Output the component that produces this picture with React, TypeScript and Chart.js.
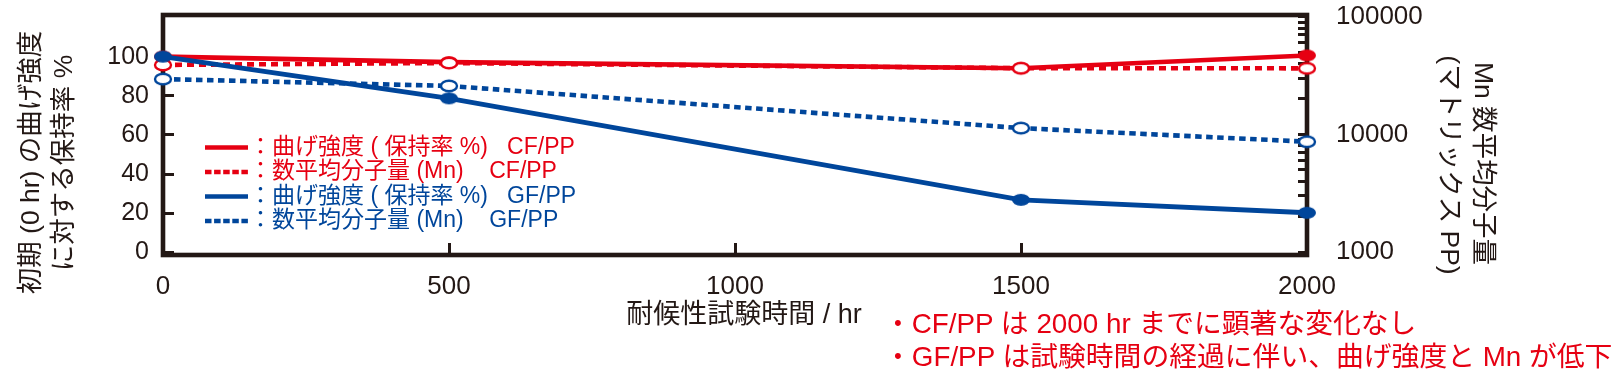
import React, { useEffect, useRef } from 'react';
import { Chart, registerables } from 'chart.js';

Chart.register(...registerables);

// ---- data ----
const hours = [0, 500, 1500, 2000];
const cfStrength = [100, 97.2, 94.1, 100.6];
const cfMn = [38900, 40400, 36500, 36400];
const gfStrength = [100, 78.7, 26.8, 20.2];
const gfMn = [29500, 25800, 11300, 8660];

const xTicks = [0, 500, 1000, 1500, 2000];
const leftTicks = [0, 20, 40, 60, 80, 100];
const rightTicks = [
  1000, 2000, 3000, 4000, 5000, 6000, 7000, 8000, 9000,
  10000, 20000, 30000, 40000, 50000, 60000, 70000, 80000, 90000,
  100000,
];
const rightLabelled = [1000, 10000, 100000];

const seriesLabels = [
  '曲げ強度 ( 保持率 %)   CF/PP',
  '数平均分子量 (Mn)    CF/PP',
  '曲げ強度 ( 保持率 %)   GF/PP',
  '数平均分子量 (Mn)    GF/PP',
];
const leftTitle = ['初期 (0 hr) の曲げ強度', 'に対する保持率 %'];
const rightTitle = ['Mn 数平均分子量', '(マトリックス PP)'];
const xTitle = '耐候性試験時間 / hr';
const notes = [
  '・CF/PP は 2000 hr までに顕著な変化なし',
  '・GF/PP は試験時間の経過に伴い、曲げ強度と Mn が低下',
];

// ---- styles ----
const RED = '#e60012';
const BLUE = '#00469b';
const INK = '#231815';
const FONT = "'Liberation Sans', 'Noto Sans CJK JP', sans-serif";

function ellipse(color: string, filled: boolean): HTMLCanvasElement {
  const c = document.createElement('canvas');
  c.width = 22;
  c.height = 16;
  const g = c.getContext('2d')!;
  g.beginPath();
  g.ellipse(11, 8, filled ? 9 : 8, filled ? 6 : 5.2, 0, 0, Math.PI * 2);
  if (filled) {
    g.fillStyle = color;
    g.fill();
  } else {
    g.fillStyle = '#ffffff';
    g.fill();
    g.lineWidth = 2.4;
    g.strokeStyle = color;
    g.stroke();
  }
  return c;
}

const zeroPad = (s: any) => {
  s.paddingTop = 0;
  s.paddingBottom = 0;
  s.paddingLeft = 0;
  s.paddingRight = 0;
};

export default function App() {
  const ref = useRef<HTMLCanvasElement | null>(null);

  useEffect(() => {
    if (!ref.current) return;
    const markers = {
      redFilled: ellipse(RED, true),
      redOpen: ellipse(RED, false),
      blueFilled: ellipse(BLUE, true),
      blueOpen: ellipse(BLUE, false),
    };
    const pts = (vals: number[]) => hours.map((h, i) => ({ x: h, y: vals[i] }));
    const seriesStyle = [
      { color: RED, legendDash: [] as number[] },
      { color: RED, legendDash: [6.5, 2.6] },
      { color: BLUE, legendDash: [] as number[] },
      { color: BLUE, legendDash: [6.5, 2.6] },
    ];

    const frameAndText = {
      id: 'frameAndText',
      beforeDatasetsDraw(chart: any) {
        const { ctx, chartArea: a } = chart;
        ctx.save();
        ctx.lineWidth = 4.6;
        ctx.strokeStyle = INK;
        ctx.strokeRect(a.left, a.top, a.right - a.left, a.bottom - a.top);
        ctx.restore();
      },
      afterDraw(chart: any) {
        const { ctx } = chart;
        const txt = (s: string, x: number, y: number, rot: number, size: number, color: string, align: CanvasTextAlign = 'center') => {
          ctx.save();
          ctx.translate(x, y);
          ctx.rotate(rot);
          ctx.font = `${size}px ${FONT}`;
          ctx.fillStyle = color;
          ctx.textAlign = align;
          ctx.textBaseline = 'middle';
          ctx.fillText(s, 0, 0);
          ctx.restore();
        };
        // axis titles
        txt(leftTitle[0], 31.5, 162.5, -Math.PI / 2, 26.5, INK);
        txt(leftTitle[1], 65, 163, -Math.PI / 2, 26.5, INK);
        txt(rightTitle[0], 1482, 163.5, Math.PI / 2, 26.5, INK);
        txt(rightTitle[1], 1448, 165, Math.PI / 2, 26.5, INK);
        txt(xTitle, 744, 316, 0, 27, INK);
        // legend
        const rows = [147.5, 172, 196.5, 221];
        seriesLabels.forEach((lab, i) => {
          const st = seriesStyle[i];
          ctx.save();
          ctx.strokeStyle = st.color;
          ctx.lineWidth = 4.6;
          ctx.lineCap = 'butt';
          ctx.setLineDash(st.legendDash);
          ctx.beginPath();
          ctx.moveTo(205, rows[i]);
          ctx.lineTo(248, rows[i]);
          ctx.stroke();
          ctx.restore();
          txt('：' + lab, 249, rows[i], 0, 23, st.color, 'left');
        });
      },
    };

    const chart = new Chart(ref.current, {
      type: 'line',
      data: {
        datasets: [
          {
            label: seriesLabels[0], data: pts(cfStrength), yAxisID: 'y', order: 4,
            borderColor: RED, backgroundColor: RED, borderWidth: 4.6,
            pointStyle: markers.redFilled as any, pointRadius: 9, pointHoverRadius: 9,
          },
          {
            label: seriesLabels[1], data: pts(cfMn), yAxisID: 'y2', order: 3,
            borderColor: RED, backgroundColor: RED, borderWidth: 4.6, borderDash: [7, 5],
            pointStyle: markers.redOpen as any, pointRadius: 9, pointHoverRadius: 9,
          },
          {
            label: seriesLabels[2], data: pts(gfStrength), yAxisID: 'y', order: 2,
            borderColor: BLUE, backgroundColor: BLUE, borderWidth: 4.8,
            pointStyle: markers.blueFilled as any, pointRadius: 9, pointHoverRadius: 9,
          },
          {
            label: seriesLabels[3], data: pts(gfMn), yAxisID: 'y2', order: 1,
            borderColor: BLUE, backgroundColor: BLUE, borderWidth: 4.6, borderDash: [6.5, 4.5],
            pointStyle: markers.blueOpen as any, pointRadius: 9, pointHoverRadius: 9,
          },
        ],
      },
      options: {
        responsive: false,
        animation: false,
        devicePixelRatio: 1,
        clip: false as any,
        layout: { padding: { top: 15, left: 0, right: 0, bottom: 0 } },
        elements: { line: { tension: 0, borderCapStyle: 'butt' } },
        plugins: { legend: { display: false }, tooltip: { enabled: false }, title: { display: false } },
        scales: {
          x: {
            type: 'linear', position: 'bottom', min: 0, max: 2000,
            afterBuildTicks: (s: any) => { s.ticks = xTicks.map((v) => ({ value: v })); },
            afterFit: (s: any) => { s.height = 123; zeroPad(s); },
            ticks: { autoSkip: false, maxRotation: 0, padding: 28, color: INK, font: { family: FONT, size: 26 }, callback: (v: any) => String(v) },
            grid: { drawOnChartArea: false, drawTicks: true, tickLength: -12, tickWidth: 3, tickColor: INK, color: INK, lineWidth: 3 },
            border: { display: false },
          },
          y: {
            type: 'linear', position: 'left', min: -1.4, max: 121.3,
            afterBuildTicks: (s: any) => { s.ticks = leftTicks.map((v) => ({ value: v })); },
            afterFit: (s: any) => { s.width = 163; zeroPad(s); },
            ticks: { autoSkip: false, padding: 25, color: INK, font: { family: FONT, size: 25 }, callback: (v: any) => String(v) },
            grid: { drawOnChartArea: false, drawTicks: true, tickLength: -11, tickWidth: 3, tickColor: INK, color: INK, lineWidth: 3 },
            border: { display: false },
          },
          y2: {
            type: 'logarithmic', position: 'right', min: 943, max: 103380,
            afterBuildTicks: (s: any) => { s.ticks = rightTicks.map((v) => ({ value: v })); },
            afterFit: (s: any) => { s.width = 316; zeroPad(s); },
            ticks: {
              autoSkip: false, padding: 38, color: INK, font: { family: FONT, size: 26 },
              callback: (v: any) => (rightLabelled.includes(Number(v)) ? String(v) : ''),
            },
            grid: { drawOnChartArea: false, drawTicks: true, tickLength: -9, tickWidth: 3, tickColor: INK, color: INK, lineWidth: 3 },
            border: { display: false },
          },
        },
      } as any,
      plugins: [frameAndText],
    });
    return () => chart.destroy();
  }, []);

  const noteStyle = (top: number): React.CSSProperties => ({
    position: 'absolute',
    left: 884,
    top,
    height: 32,
    lineHeight: '32px',
    fontSize: 27.8,
    fontFamily: FONT,
    color: RED,
    whiteSpace: 'pre',
  });

  return (
    <div style={{ position: 'fixed', left: 0, top: 0, width: 1623, height: 378, background: '#ffffff', overflow: 'hidden' }}>
      <canvas ref={ref} width={1623} height={378} style={{ position: 'absolute', left: 0, top: 0, width: 1623, height: 378 }} />
      <div style={noteStyle(308)}>{notes[0]}</div>
      <div style={noteStyle(341)}>{notes[1]}</div>
    </div>
  );
}
